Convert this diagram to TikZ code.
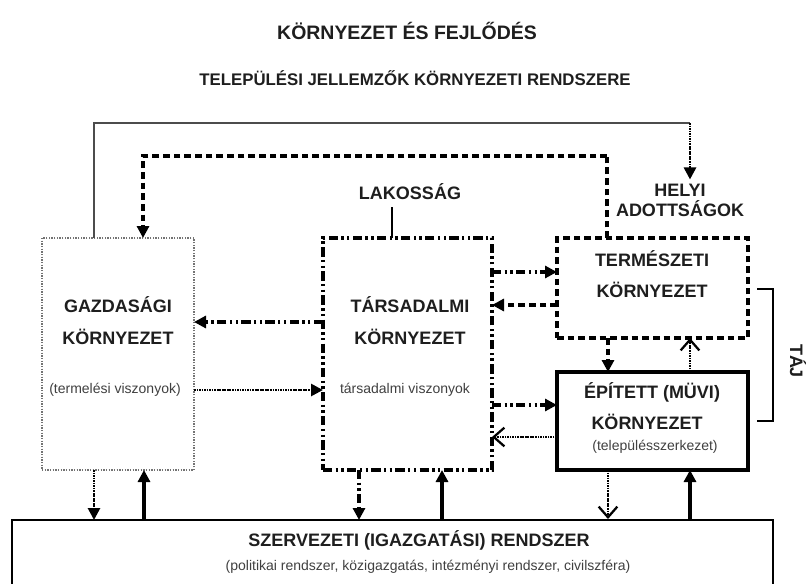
\documentclass[tikz,border=0pt]{standalone}
\usepackage{fontspec}
\setmainfont{Liberation Sans}
\usetikzlibrary{arrows.meta,calc}
\newdimen\pxu \pxu=0.75pt
\definecolor{ink}{HTML}{1E1E1E}
\begin{document}
\begin{tikzpicture}[x=0.75pt,y=-0.75pt,
  box/.style={draw,inner sep=0pt,outer sep=0pt,rectangle},
  lbl/.style={font=\bfseries\fontsize{13.5}{16}\selectfont,text=ink,inner sep=0pt,align=center},
  ttl/.style={font=\bfseries\fontsize{14.6}{17}\selectfont,text=ink,inner sep=0pt},
  sml/.style={font=\fontsize{10.5}{12}\selectfont,text=ink!85,inner sep=0pt},
  ddot/.style={line width=2.3pt,dash pattern=on 7pt off 2.5pt on 1.8pt off 2.5pt on 1.8pt off 2.5pt},
  dsh/.style={line width=2.3pt,dash pattern=on 5pt off 3pt},
  dts/.style={line width=2pt,dash pattern=on 1.3pt off 0.6pt},
  thk/.style={line width=2.6pt},
  tri/.style={-{Triangle[length=9pt,width=9pt]}},
  barb/.style={-{Straight Barb[length=8pt,width=14pt,line width=1.7pt]}}
]
\useasboundingbox (0,0) rectangle (808,583);
\clip (0,0) rectangle (808,583);
\fill[white] (0,0) rectangle (808,583);

% titles
\node[ttl] (t1) at (407,31) {KÖRNYEZET ÉS FEJLŐDÉS};
\node[ttl,font=\bfseries\fontsize{12.6}{15}\selectfont] (t2) at (415,78) {TELEPÜLÉSI JELLEMZŐK KÖRNYEZETI RENDSZERE};

% boxes
\node[box,draw=black!55,line width=1.2pt,dash pattern=on 1pt off 1pt,minimum width=152\pxu,minimum height=232\pxu] (gaz) at (118,354) {};
\node[box,ddot,minimum width=169\pxu,minimum height=232\pxu] (tar) at (407.5,354) {};
\node[box,dsh,minimum width=191\pxu,minimum height=100\pxu] (ter) at (652.5,288) {};
\node[box,line width=2.4pt,minimum width=191\pxu,minimum height=98\pxu] (epi) at (652.5,421) {};
\node[box,line width=1.2pt,minimum width=761\pxu,minimum height=80\pxu] (sze) at (392.5,560) {};

% texts
\node[lbl] (gaz1) at (118,305) {GAZDASÁGI};
\node[lbl] (gaz2) at (118,337) {KÖRNYEZET};
\node[sml] (gaz3) at (115,390) {(termelési viszonyok)};
\node[lbl] (tar1) at (410,305) {TÁRSADALMI};
\node[lbl] (tar2) at (410,337) {KÖRNYEZET};
\node[sml] (tar3) at (405,390) {társadalmi viszonyok};
\node[lbl] (ter1) at (652,259) {TERMÉSZETI};
\node[lbl] (ter2) at (652,290) {KÖRNYEZET};
\node[lbl] (epi1) at (652,392) {ÉPÍTETT (MÜVI)};
\node[lbl] (epi2) at (647,422) {KÖRNYEZET};
\node[sml] (epi3) at (655,447) {(településszerkezet)};
\node[lbl] (sze1) at (419,540) {SZERVEZETI (IGAZGATÁSI) RENDSZER};
\node[sml] (sze2) at (428,567) {(politikai rendszer, közigazgatás, intézményi rendszer, civilszféra)};
\node[lbl] (lak) at (410,192) {LAKOSSÁG};
\node[lbl,align=center] (hely) at (680,200) {HELYI\\[-1pt]ADOTTSÁGOK};
\node[lbl,rotate=-90] (taj) at (798,361) {TÁJ};

% top solid line to HELYI ADOTTSÁGOK
\coordinate (c1) at (690,123);
\draw[line width=1.6pt,black!70] ($(gaz.north west)+(52,0)$) |- (c1);
\draw[dts,tri] (c1) -- ($(hely.north)+(10,-4)$);

% dashed line from TERMÉSZETI to GAZDASÁGI
\coordinate (c2) at (607,156);
\draw[dsh] ($(ter.north west)+(50,0)$) -- (c2);
\draw[dsh,tri] (c2) -| ($(gaz.north west)+(101,0)$);

% LAKOSSÁG line
\draw[line width=1.2pt] ($(tar.north west)+(69,0)$) -- ($(lak.south)+(-18,7)$);

% horizontal arrows
\draw[ddot,tri] ($(tar.north west)+(0,84)$) -- ($(gaz.north east)+(0,84)$);
\draw[dts,tri] ($(gaz.north east)+(0,152)$) -- ($(tar.north west)+(0,152)$);
\draw[ddot,tri] ($(tar.north east)+(0,34)$) -- ($(ter.north west)+(0,34)$);
\draw[dsh,tri] ($(ter.north west)+(0,67)$) -- ($(tar.north east)+(0,67)$);
\draw[ddot,tri] ($(tar.north east)+(0,167)$) -- ($(epi.north west)+(0,33)$);
\draw[dts,barb] ($(epi.north west)+(0,65)$) -- ($(tar.north east)+(0,199)$);

% vertical arrows between TERMÉSZETI and ÉPÍTETT
\draw[dsh,tri] ($(ter.south west)+(51,0)$) -- ($(epi.north west)+(51,0)$);
\draw[dts,barb] ($(epi.north west)+(133,0)$) -- ($(ter.south west)+(133,0)$);

% vertical arrows to/from SZERVEZETI
\draw[dts,tri] ($(gaz.south west)+(52,0)$) -- ($(gaz.south west)+(52,50)$) coordinate (s1);
\draw[thk,tri] ($(gaz.south west)+(102,50)$) coordinate (s2) -- ($(gaz.south west)+(102,0)$);
\draw[ddot,tri] ($(tar.south west)+(36,0)$) -- ($(tar.south west)+(36,50)$) coordinate (s3);
\draw[thk,tri] ($(tar.south west)+(119,50)$) coordinate (s4) -- ($(tar.south west)+(119,0)$);
\draw[dts,barb] ($(epi.south west)+(51,0)$) -- ($(epi.south west)+(51,49)$) coordinate (s5);
\draw[thk,tri] ($(epi.south west)+(133,49)$) coordinate (s6) -- ($(epi.south west)+(133,0)$);

% TÁJ bracket
\draw[line width=1.3pt] ($(ter.east)+(9,1)$) -- ++(16,0) |- ($(epi.east)+(9,0)$);
\end{tikzpicture}
\end{document}
